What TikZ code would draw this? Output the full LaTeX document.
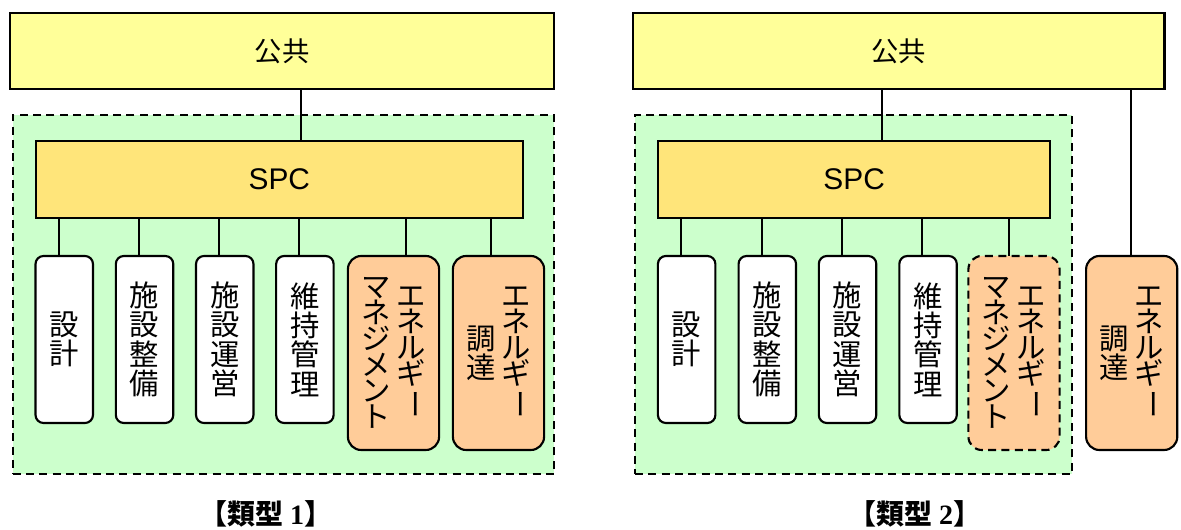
\documentclass[tikz,border=0pt]{standalone}
\usepackage{fontspec}
\setmainfont{Noto Sans CJK JP}
\newfontfamily\spcfont{Liberation Sans}
\newfontfamily\serifd{Liberation Serif}
\usepackage{graphicx}
\definecolor{kyellow}{HTML}{FFFF99}
\definecolor{spcgold}{HTML}{FFE57A}
\definecolor{lgreen}{HTML}{CCFFCC}
\definecolor{lorange}{HTML}{FFCC99}
\newcommand{\vcol}[2]{$\vcenter{\baselineskip=#1\lineskiplimit=-100pt\lineskip=0pt\halign{\hfil##\hfil\cr#2\crcr}}$}
\newcommand{\cho}{\rotatebox[origin=c]{-90}{ー}}
\tikzset{
  every node/.style={inner sep=0pt, outer sep=0pt},
  pubbox/.style={draw, line width=1.6pt, fill=kyellow, minimum width=#1, minimum height=57pt,
    font=\fontsize{20.5pt}{24pt}\selectfont},
  spcbox/.style={draw, line width=1.6pt, fill=spcgold, minimum width=#1, minimum height=57.75pt,
    font=\spcfont\fontsize{22.4pt}{26pt}\selectfont},
  grp/.style={draw, line width=1.5pt, fill=lgreen, dash pattern=on 6pt off 4pt, minimum height=269.25pt},
  wbox/.style={draw, line width=1.6pt, fill=white, rounded corners=6pt, minimum width=43.1pt,
    minimum height=125.25pt, font=\fontsize{22pt}{22pt}\selectfont},
  obox/.style={draw, line width=1.6pt, fill=lorange, rounded corners=10pt, minimum width=68.4pt,
    minimum height=145.5pt, font=\fontsize{22pt}{22pt}\selectfont},
  odash/.style={obox, dash pattern=on 6pt off 4pt},
  conn/.style={line width=1.5pt},
  lbl/.style={font=\fontsize{21pt}{24pt}\selectfont\bfseries}
}
\begin{document}
\begin{tikzpicture}[x=0.75pt, y=-0.75pt]
\useasboundingbox (0,0) rectangle (1181,530);
% ---------- type 1 ----------
\node[grp, minimum width=406pt] (gL) at (283.35,294.5) {};
\node[pubbox=408pt] (kL) at (282,51) {公共};
\node[spcbox=365.55pt] (sL) at (279.3,179.5) {SPC};
\node[wbox] (a1) at (64.25,339.5) {\vcol{22pt}{設\cr 計}};
\node[wbox] (a2) at (144.55,339.5) {\vcol{22pt}{施\cr 設\cr 整\cr 備}};
\node[wbox] (a3) at (224.75,339.5) {\vcol{22pt}{施\cr 設\cr 運\cr 営}};
\node[wbox] (a4) at (304.9,339.5) {\vcol{22pt}{維\cr 持\cr 管\cr 理}};
\node[obox] (a5) at (393.5,353) {\vcol{19.5pt}{マ\cr ネ\cr ジ\cr メ\cr ン\cr ト}\hspace{4.3pt}\vcol{19.5pt}{エ\cr ネ\cr ル\cr ギ\cr \cho}};
\node[obox] (a6) at (498.5,353) {\vcol{22pt}{調\cr 達}\hspace{4pt}\vcol{19.5pt}{エ\cr ネ\cr ル\cr ギ\cr \cho}};
\coordinate (cL0) at (301,0);
\coordinate (cL1) at (58.9,0);
\coordinate (cL2) at (138.6,0);
\coordinate (cL3) at (219,0);
\coordinate (cL4) at (299.3,0);
\coordinate (cL5) at (406,0);
\coordinate (cL6) at (490.5,0);
\draw[conn] (kL.south -| cL0) -- (sL.north -| cL0);
\draw[conn] (sL.south -| cL1) -- (a1.north -| cL1);
\draw[conn] (sL.south -| cL2) -- (a2.north -| cL2);
\draw[conn] (sL.south -| cL3) -- (a3.north -| cL3);
\draw[conn] (sL.south -| cL4) -- (a4.north -| cL4);
\draw[conn] (sL.south -| cL5) -- (a5.north -| cL5);
\draw[conn] (sL.south -| cL6) -- (a6.north -| cL6);
\node[lbl] (t1) at (266,514) {【類型 {\serifd\bfseries 1}】};
% ---------- type 2 ----------
\node[grp, minimum width=327.5pt] (gR) at (853.35,294.5) {};
\node[pubbox=398.4pt] (kR) at (898.9,51) {公共};
\node[spcbox=294.2pt] (sR) at (854.15,179.5) {SPC};
\node[wbox] (b1) at (686.65,339.5) {\vcol{22pt}{設\cr 計}};
\node[wbox] (b2) at (767.3,339.5) {\vcol{22pt}{施\cr 設\cr 整\cr 備}};
\node[wbox] (b3) at (847.55,339.5) {\vcol{22pt}{施\cr 設\cr 運\cr 営}};
\node[wbox] (b4) at (928.05,339.5) {\vcol{22pt}{維\cr 持\cr 管\cr 理}};
\node[odash] (b5) at (1014,353) {\vcol{19.5pt}{マ\cr ネ\cr ジ\cr メ\cr ン\cr ト}\hspace{4.3pt}\vcol{19.5pt}{エ\cr ネ\cr ル\cr ギ\cr \cho}};
\node[obox] (b6) at (1131.7,353) {\vcol{22pt}{調\cr 達}\hspace{4pt}\vcol{19.5pt}{エ\cr ネ\cr ル\cr ギ\cr \cho}};
\coordinate (cR0) at (881.7,0);
\coordinate (cR1) at (681.3,0);
\coordinate (cR2) at (761.6,0);
\coordinate (cR3) at (842,0);
\coordinate (cR4) at (922.4,0);
\coordinate (cR5) at (1008.5,0);
\coordinate (cR6) at (1130.5,0);
\draw[conn] (kR.south -| cR0) -- (sR.north -| cR0);
\draw[conn] (sR.south -| cR1) -- (b1.north -| cR1);
\draw[conn] (sR.south -| cR2) -- (b2.north -| cR2);
\draw[conn] (sR.south -| cR3) -- (b3.north -| cR3);
\draw[conn] (sR.south -| cR4) -- (b4.north -| cR4);
\draw[conn] (sR.south -| cR5) -- (b5.north -| cR5);
\draw[conn] (kR.south -| cR6) -- (b6.north -| cR6);
\node[lbl] (t2) at (915,514) {【類型 {\serifd\bfseries 2}】};
\end{tikzpicture}
\end{document}
